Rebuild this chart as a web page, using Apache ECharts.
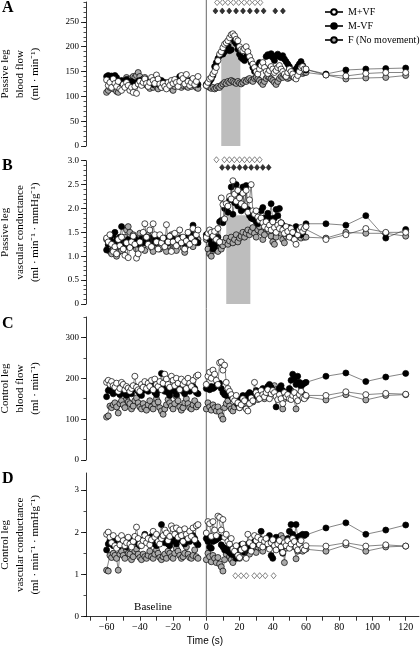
<!DOCTYPE html>
<html><head><meta charset="utf-8">
<script src="https://cdn.jsdelivr.net/npm/echarts@6/dist/echarts.min.js"></script>
<style>html,body{margin:0;padding:0;background:#fff}#c{width:420px;height:646px}</style>
</head><body><div id="c"></div>
<script>
// ---------- time axis (s) ----------
const time = [-60,-59,-58,-57,-56,-55,-54,-53,-52,-51,-50,-49,-48,-47,-46,-45,-44,-43,-42,-41,-40,-39,-38,-37,-36,-35,-34,-33,-32,-31,-30,-29,-28,-27,-26,-25,-24,-23,-22,-21,-20,-19,-18,-17,-16,-15,-14,-13,-12,-11,-10,-9,-8,-7,-6,-5,
0,1,2,3,4,5,6,7,8,9,10,11,12,13,14,15,16,17,18,19,20,21,22,23,24,25,26,27,28,29,30,31,32,33,34,35,36,37,38,39,40,41,42,43,44,45,46,47,48,49,50,51,52,53,54,55,56,57,58,59,60,
72,84,96,108,120];

// ---------- Panel A: passive leg blood flow (ml/min) ----------
const A_F = [108,112,118,122,115,125,110,108,116,120,128,124,138,130,135,132,140,138,142,148,140,132,135,138,124,120,116,122,118,125,120,115,122,118,125,120,124,118,122,116,112,120,126,130,124,118,122,128,120,118,124,120,126,122,118,116,
122,120,118,116,118,115,117,120,118,122,125,128,126,130,128,132,130,128,126,130,127,125,128,132,130,134,136,132,130,136,138,135,132,128,124,130,136,140,138,135,132,128,124,130,136,140,138,142,140,136,138,142,140,138,142,145,146,148,146,148,148,
143,135,137,138,142];
const A_MVFminus = [140,142,138,141,136,142,138,130,128,132,126,130,134,128,125,130,128,122,126,130,132,127,124,130,128,126,130,128,124,126,128,125,130,132,126,128,124,126,128,125,127,130,128,134,140,136,132,130,128,126,132,130,125,128,126,124,
124,126,130,135,142,160,168,176,182,186,185,190,196,202,192,194,216,210,206,195,185,178,175,172,180,184,176,168,158,150,156,162,168,165,160,158,180,184,182,186,178,172,182,185,180,178,182,175,170,165,160,152,148,150,155,160,165,170,162,155,153,
145,153,155,156,157];
const A_MVFplus = [133,122,128,118,135,126,120,130,115,112,124,118,128,122,112,118,108,120,106,125,130,122,128,135,126,120,128,138,132,126,143,135,125,118,126,120,115,128,122,132,126,134,128,120,130,142,136,125,144,130,122,128,136,124,130,140,
122,128,135,138,145,150,158,172,185,190,198,205,208,212,218,224,226,222,215,212,200,194,192,196,200,190,180,172,165,158,150,145,155,162,168,158,150,146,152,160,155,148,152,158,162,155,150,145,140,148,155,150,145,138,135,142,150,158,160,155,155,
143,141,146,148,148];

// ---------- Panel B: passive leg vascular conductance ----------
const B_F = [1.35,1.20,1.10,1.05,1.15,1.25,1.00,1.08,1.20,1.12,1.30,1.40,1.55,1.62,1.50,1.35,1.45,1.25,1.15,1.30,1.48,1.38,1.22,1.12,1.28,1.45,1.35,1.18,1.10,1.25,1.40,1.30,1.15,1.20,1.35,1.28,1.10,1.22,1.35,1.45,1.30,1.20,1.12,1.25,1.38,1.30,1.18,1.08,1.22,1.35,1.45,1.30,1.20,1.50,1.40,1.35,
1.35,1.15,1.05,1.00,1.12,1.25,1.18,1.10,1.28,1.15,1.22,1.30,1.38,1.25,1.32,1.40,1.28,1.35,1.45,1.30,1.38,1.42,1.50,1.40,1.48,1.55,1.45,1.52,1.60,1.48,1.40,1.55,1.62,1.50,1.35,1.45,1.58,1.65,1.52,1.42,1.30,1.25,1.40,1.55,1.62,1.48,1.35,1.28,1.42,1.55,1.60,1.48,1.38,1.45,1.58,1.50,1.42,1.38,1.45,1.40,1.40,
1.38,1.50,1.48,1.48,1.42];
const B_MVFminus = [1.13,1.25,1.38,1.30,1.45,1.50,1.35,1.28,1.40,1.62,1.30,1.20,1.25,1.35,1.28,1.22,1.30,1.38,1.32,1.25,1.30,1.36,1.28,1.33,1.40,1.35,1.30,1.38,1.32,1.28,1.35,1.40,1.36,1.30,1.34,1.38,1.32,1.28,1.35,1.40,1.36,1.30,1.34,1.28,1.32,1.38,1.30,1.25,1.35,1.40,1.32,1.45,1.65,1.40,1.30,1.28,
1.45,1.40,1.35,1.25,1.15,1.20,1.28,1.40,1.72,1.75,1.70,2.00,2.02,1.92,2.18,2.45,1.88,2.12,2.50,2.05,2.28,1.95,2.45,2.00,2.48,1.98,1.85,1.80,1.78,1.85,1.72,1.68,1.75,1.95,2.02,1.80,1.72,1.90,1.80,2.10,1.75,1.80,1.98,1.85,2.00,1.70,1.65,1.55,1.48,1.60,1.42,1.55,1.50,1.45,1.62,1.48,1.52,1.45,1.50,1.58,1.68,
1.68,1.65,1.85,1.38,1.56];
const B_MVFplus = [1.38,1.30,1.45,1.25,1.10,1.20,1.05,1.35,1.22,1.40,1.15,1.02,1.28,0.97,1.18,1.30,1.42,1.25,0.96,1.05,1.30,1.15,1.50,1.68,1.40,1.25,1.55,1.20,1.68,1.45,1.30,1.15,1.45,1.28,1.38,1.20,1.66,1.30,1.42,1.10,1.30,1.48,1.22,1.35,1.55,1.28,1.40,1.15,1.32,1.50,1.25,1.38,1.58,1.30,1.45,1.55,
1.40,1.48,1.55,1.50,1.42,1.52,1.35,1.58,1.30,2.22,2.08,1.78,2.10,2.05,2.25,2.20,2.58,2.30,2.15,2.38,2.22,2.10,2.32,2.05,2.38,1.92,2.18,2.50,1.95,1.88,1.95,1.82,1.75,1.80,1.70,1.62,1.72,1.58,1.65,1.55,1.72,1.60,1.50,1.65,1.58,1.70,1.55,1.48,1.62,1.52,1.40,1.58,1.50,1.35,1.25,1.45,1.55,1.60,1.52,1.58,1.62,
1.35,1.45,1.58,1.50,1.50];

// ---------- Panel C: control leg blood flow (ml/min) ----------
const C_F = [105,108,132,128,135,140,130,115,138,145,135,128,150,142,138,125,132,145,152,140,130,125,138,128,122,135,145,130,125,138,150,142,128,120,112,125,135,148,140,132,125,138,155,145,130,122,128,140,150,138,128,125,135,145,130,135,
125,140,130,122,135,128,120,130,118,108,100,128,138,145,132,125,120,130,140,135,128,138,145,140,132,148,155,150,142,155,160,148,152,165,158,150,162,170,178,168,175,182,172,165,175,160,125,150,165,160,155,170,162,158,125,150,160,155,162,158,155,
147,160,147,158,160];
const C_MVFminus = [155,170,175,168,162,178,170,165,160,172,168,162,158,165,170,162,175,180,172,168,162,158,170,188,175,168,178,185,172,165,160,170,182,212,178,168,172,165,158,170,175,168,160,172,180,175,168,162,170,175,168,172,180,175,165,162,
175,178,172,180,175,178,182,185,188,175,165,160,158,162,160,155,150,148,145,138,142,150,158,155,150,160,165,155,150,162,170,168,160,165,175,172,168,180,185,178,170,165,130,160,175,182,170,165,158,165,175,195,210,198,185,205,190,180,185,188,190,
205,213,192,203,212];
const C_MVFplus = [190,195,185,192,182,178,188,168,175,190,185,172,180,176,168,175,182,205,178,172,168,185,178,192,175,188,180,195,172,198,185,180,192,172,188,210,198,185,178,205,195,182,200,188,172,198,185,192,175,200,188,180,195,172,205,208,
185,205,215,200,220,210,195,185,238,240,220,232,190,175,168,160,150,145,158,140,128,135,150,145,125,120,138,152,145,190,165,158,150,170,160,155,165,172,150,162,170,165,155,148,160,150,138,165,155,160,150,148,158,165,152,145,160,168,152,150,158,
158,167,160,163,161];

// ---------- Panel D: control leg vascular conductance ----------
const D_F = [1.10,1.08,1.45,1.40,1.50,1.45,1.38,1.10,1.48,1.55,1.45,1.38,1.58,1.50,1.48,1.35,1.42,1.55,1.60,1.48,1.40,1.35,1.48,1.42,1.38,1.45,1.55,1.42,1.38,1.48,1.58,1.50,1.40,1.35,1.42,1.48,1.38,1.55,1.50,1.42,1.38,1.50,1.62,1.55,1.45,1.38,1.42,1.50,1.65,1.48,1.40,1.38,1.45,1.58,1.42,1.38,
1.35,1.50,1.42,1.30,1.45,1.38,1.28,1.40,1.25,1.18,1.08,1.35,1.48,1.58,1.42,1.35,1.28,1.40,1.52,1.45,1.38,1.50,1.58,1.45,1.62,1.55,1.48,1.60,1.68,1.58,1.52,1.65,1.72,1.62,1.55,1.70,1.78,1.85,1.72,1.68,1.80,1.75,1.70,1.82,1.88,1.92,1.85,1.28,1.62,1.70,1.78,1.72,1.80,1.65,1.37,1.55,1.62,1.58,1.55,1.60,1.60,
1.55,1.70,1.55,1.65,1.67];
const D_MVFminus = [1.58,1.72,1.80,1.75,1.68,1.82,1.78,1.65,1.72,1.85,1.78,1.70,1.65,1.75,1.82,1.72,1.80,1.88,1.78,1.72,1.68,1.75,1.82,1.95,1.85,1.78,1.82,1.90,1.80,1.72,1.68,1.78,1.88,2.18,1.85,1.75,1.80,1.72,1.68,1.78,1.85,1.80,1.72,1.82,1.90,1.85,1.78,1.72,1.80,1.85,1.78,1.82,1.92,1.85,1.75,1.70,
1.85,1.78,1.65,1.62,1.78,1.80,1.82,1.85,1.88,1.70,1.65,1.58,1.62,1.55,1.52,1.48,1.55,1.45,1.38,1.50,1.62,1.70,1.58,1.52,1.62,1.72,1.65,1.58,1.70,1.78,1.72,1.80,1.85,2.02,1.75,1.68,1.72,1.85,1.92,1.45,1.38,1.72,1.88,1.80,1.72,1.60,1.50,1.68,1.75,1.85,2.02,2.18,1.95,1.85,2.18,1.88,1.90,1.92,1.95,1.92,1.95,
2.10,2.22,1.95,2.05,2.17];
const D_MVFplus = [1.95,2.00,1.88,1.75,1.92,1.68,1.62,1.85,1.70,1.92,1.80,1.68,1.75,1.88,1.72,1.65,1.78,1.90,2.12,1.85,1.72,1.68,1.80,1.92,1.75,1.85,1.70,1.82,2.02,1.88,1.95,1.78,1.72,1.85,1.92,2.05,1.98,1.80,1.90,2.15,2.08,1.95,2.10,1.88,2.05,1.92,1.78,2.08,1.95,1.85,2.02,1.90,2.10,1.82,2.15,2.18,
1.98,2.25,2.20,1.90,2.25,2.05,1.92,2.38,2.35,2.05,2.30,1.88,1.95,1.78,1.72,1.85,1.60,1.55,1.68,1.45,1.40,1.58,1.72,1.62,1.38,1.95,1.75,1.55,1.68,1.92,1.80,1.88,1.70,1.82,1.65,1.78,1.85,1.72,1.60,1.75,1.82,1.68,1.58,1.72,1.80,1.65,1.52,1.75,1.68,1.80,1.62,1.72,1.85,1.78,1.65,1.58,1.72,1.80,1.62,1.58,1.68,
1.67,1.75,1.67,1.70,1.67];

// ---------- movement period bars (panels A, B) ----------
const barStart = [9, 12];
const barEnd = [20.5, 26.5];
const barTop = [205, 1.86];

// ---------- significance markers ----------
const A_sigOpenT = [6.5,9.8,13.0,16.3,19.5,22.8,26.0,29.3,32.5];
const A_sigOpenY = 289;
const A_sigFillT = [5.5,9.6,13.8,17.9,22.1,26.2,30.4,34.5,41.5,46.1];
const A_sigFillY = 272;
const B_sigOpenT = [6.1,10.9,13.9,16.9,20.0,23.0,26.0,29.1,32.1];
const B_sigOpenY = 3.02;
const B_sigFillT = [9.5,13.0,16.5,20.0,23.5,27.0,30.5,34.0,37.5];
const B_sigFillY = 2.86;
const D_sigOpenT = [17.5,20.9,24.1,28.9,32.1,35.5,40.5];
const D_sigOpenY = 0.97;

// ---------- axes ----------
const xMin = -72.4, xMax = 128;
const xTickVals = [-70,-60,-50,-40,-30,-20,-10,0,10,20,30,40,50,60,70,80,90,100,110,120];
const xLabelVals = [-60,-40,-20,0,20,40,60,80,100,120];
const onsetTime = 0;

const panels = [
  {min:0,max:290,major:[0,50,100,150,200,250],minor:[0,10,20,30,40,50,60,70,80,90,100,110,120,130,140,150,160,170,180,190,200,210,220,230,240,250,260,270,280,290],
   name:'Passive leg\nblood flow\n(ml · min⁻¹)', fmt:v=>String(v), series:[A_F,A_MVFminus,A_MVFplus]},
  {min:0,max:3.0,major:[0,0.5,1,1.5,2,2.5,3],minor:[0,0.1,0.2,0.3,0.4,0.5,0.6,0.7,0.8,0.9,1,1.1,1.2,1.3,1.4,1.5,1.6,1.7,1.8,1.9,2,2.1,2.2,2.3,2.4,2.5,2.6,2.7,2.8,2.9,3],
   name:'Passive leg\nvascular conductance\n(ml · min⁻¹ · mmHg⁻¹)', fmt:v=>v===0?'0':v.toFixed(1), series:[B_F,B_MVFminus,B_MVFplus]},
  {min:0,max:350,major:[0,100,200,300],minor:[0,50,100,150,200,250,300,350],
   name:'Control leg\nblood flow\n(ml · min⁻¹)', fmt:v=>String(v), series:[C_F,C_MVFminus,C_MVFplus]},
  {min:0,max:3.4,major:[0,1,2,3],minor:[0,0.5,1,1.5,2,2.5,3],
   name:'Control leg\nvascular conductance\n(ml · min⁻¹ · mmHg⁻¹)', fmt:v=>String(v), series:[D_F,D_MVFminus,D_MVFplus]}
];
const gridBoxes = [{top:2,height:144},{top:160.7,height:143.3},{top:317,height:143},{top:473,height:143.7}];

const SERIF = '"Liberation Serif","Times New Roman",serif';
const names = ['F (No movement)','M-VF','M+VF'];
const fills = ['#aaaaaa','#000000','#ffffff'];

function toPts(vals){
  const out = [];
  for (let i = 0; i < time.length; i++) {
    if (time[i] === onsetTime && i > 0) out.push([ (time[i-1]+time[i])/2, '-' ]);
    out.push([time[i], vals[i]]);
  }
  return out;
}

const grid = gridBoxes.map(g => ({left:86, width:333, top:g.top, height:g.height, containLabel:false, outerBoundsMode:'none'}));
grid.push({left:86, width:333, top:0, height:617, containLabel:false, outerBoundsMode:'none'});

const xAxis = [], yAxis = [], series = [];
panels.forEach((p, i) => {
  xAxis.push({gridIndex:i, type:'value', min:xMin, max:xMax, show:i===3,
    axisLine:{onZero:false, lineStyle:{color:'#000',width:0.8}},
    axisTick:{customValues:xTickVals, length:4, lineStyle:{color:'#000',width:0.8}},
    axisLabel:{customValues:xLabelVals, formatter:v=>v<0?'\u2212'+(-v):String(v), fontFamily:SERIF, fontSize:10, color:'#000', margin:6},
    splitLine:{show:false}});
  yAxis.push({gridIndex:i, type:'value', min:p.min, max:p.max, position:'left',
    axisLine:{show:true, onZero:false, lineStyle:{color:'#000',width:0.8}},
    axisTick:{show:true, customValues:p.minor, length:2.5, lineStyle:{color:'#000',width:0.7}},
    axisLabel:{show:false}, splitLine:{show:false}});
  yAxis.push({gridIndex:i, type:'value', min:p.min, max:p.max, position:'left',
    axisLine:{show:false, onZero:false},
    axisTick:{show:true, customValues:p.major, length:5, lineStyle:{color:'#000',width:0.8}},
    axisLabel:{customValues:p.major, formatter:p.fmt, fontFamily:SERIF, fontSize:9, color:'#000', margin:7},
    splitLine:{show:false},
    name:p.name, nameLocation:'middle', nameRotate:90, nameGap:43,
    nameTextStyle:{fontFamily:SERIF, fontSize:11, lineHeight:15, color:'#000', align:'center'}});
  if (i < 2) {
    series.push({type:'custom', xAxisIndex:i, yAxisIndex:2*i, z:1, silent:true,
      data:[[barStart[i], barEnd[i], barTop[i]]],
      renderItem:(params, api) => {
        const a = api.coord([api.value(0), 0]);
        const b = api.coord([api.value(1), api.value(2)]);
        return {type:'rect', shape:{x:a[0], y:b[1], width:b[0]-a[0], height:a[1]-b[1]}, style:{fill:'#bdbdbd'}};
      }});
  }
  p.series.forEach((vals, k) => {
    series.push({type:'line', name:names[k], xAxisIndex:i, yAxisIndex:2*i, data:toPts(vals),
      symbol:'circle', symbolSize:6, showSymbol:true, showAllSymbol:true, connectNulls:false,
      lineStyle:{color:'#333', width:0.6}, itemStyle:{color:fills[k], borderColor:'#000', borderWidth:0.7},
      emphasis:{disabled:true}, z:2+k});
  });
});
xAxis.push({gridIndex:4, type:'value', min:xMin, max:xMax, show:false});
yAxis.push({gridIndex:4, type:'value', min:0, max:1, show:false});
series.push({type:'custom', xAxisIndex:4, yAxisIndex:8, z:1, silent:true, data:[[onsetTime]],
  renderItem:(params, api) => {
    const a = api.coord([api.value(0), 0]);
    const b = api.coord([api.value(0), 1]);
    return {type:'line', shape:{x1:a[0], y1:a[1], x2:b[0], y2:b[1]}, style:{stroke:'#666', lineWidth:1}};
  }});

function sig(ti, tVals, yVal, open){
  series.push({type:'scatter', xAxisIndex:ti, yAxisIndex:2*ti, clip:false, silent:true, z:6,
    data:tVals.map(t => [t, yVal]), symbol:'diamond', symbolSize:[5,6],
    itemStyle:{color:open?'#fff':'#000', borderColor:'#000', borderWidth:0.6}});
}
sig(0, A_sigOpenT, A_sigOpenY, true);
sig(0, A_sigFillT, A_sigFillY, false);
sig(1, B_sigOpenT, B_sigOpenY, true);
sig(1, B_sigFillT, B_sigFillY, false);
sig(3, D_sigOpenT, D_sigOpenY, true);

const chart = echarts.init(document.getElementById('c'), null, {renderer:'canvas'});
chart.setOption({
  animation:false,
  backgroundColor:'#fff',
  grid, xAxis, yAxis, series,
  legend:{data:['M+VF','M-VF','F (No movement)'], orient:'vertical', left:319, top:2, itemWidth:18, itemHeight:7, itemGap:4,
    textStyle:{fontFamily:SERIF, fontSize:10, color:'#000'}, selectedMode:false},
  graphic:[
    {type:'text', style:{text:'A', x:2, y:8, font:'bold 16px "Liberation Serif", serif', fill:'#000', verticalAlign:'middle'}},
    {type:'text', style:{text:'B', x:2, y:166, font:'bold 16px "Liberation Serif", serif', fill:'#000', verticalAlign:'middle'}},
    {type:'text', style:{text:'C', x:2, y:324, font:'bold 16px "Liberation Serif", serif', fill:'#000', verticalAlign:'middle'}},
    {type:'text', style:{text:'D', x:2, y:479, font:'bold 16px "Liberation Serif", serif', fill:'#000', verticalAlign:'middle'}},
    {type:'text', style:{text:'Baseline', x:153, y:607, font:'11px "Liberation Serif", serif', fill:'#000', align:'center', verticalAlign:'middle'}},
    {type:'text', style:{text:'Time (s)', x:205, y:641, font:'10px "Liberation Sans", sans-serif', fill:'#000', align:'center', verticalAlign:'middle'}}
  ]
});
</script></body></html>
